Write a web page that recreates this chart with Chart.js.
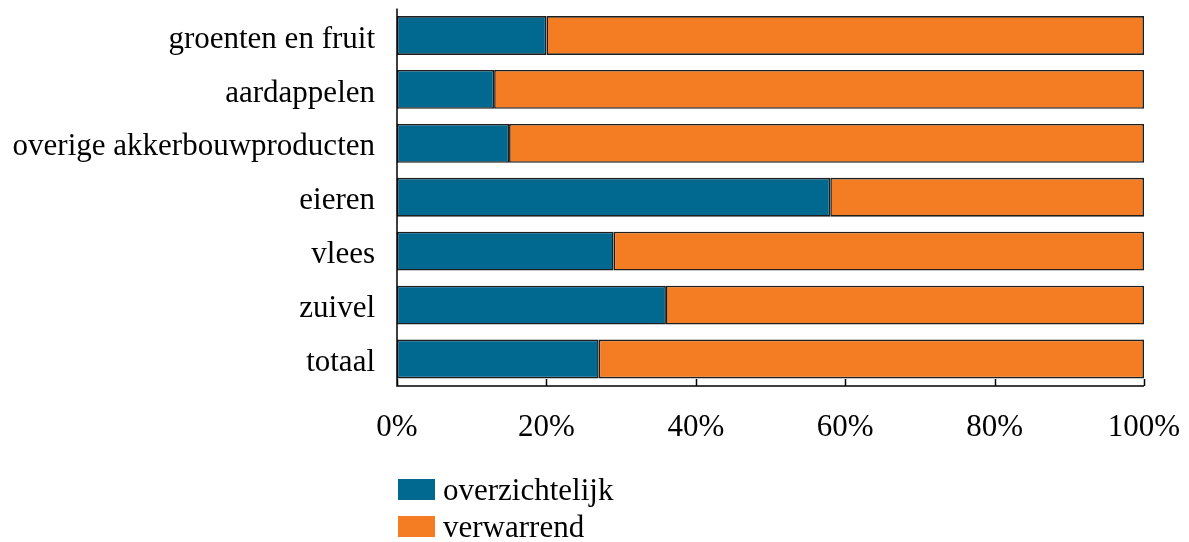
<!DOCTYPE html>
<html>
<head>
<meta charset="utf-8">
<script src="https://cdn.jsdelivr.net/npm/chart.js@4"></script>
<style>
html,body{margin:0;padding:0;background:#fff;}
#wrap{position:relative;width:1189px;height:542px;overflow:hidden;}
#legend{position:absolute;left:398px;top:471px;font-family:"Liberation Serif","Times New Roman",serif;font-size:31px;color:#000;}
.item{display:flex;align-items:center;height:37px;line-height:37px;}
.sw{width:37px;height:21px;margin-right:8px;}
</style>
</head>
<body>
<div id="wrap">
<canvas id="c" width="1189" height="542"></canvas>
<div id="legend"></div>
</div>
<script>
const categories = ["groenten en fruit","aardappelen","overige akkerbouwproducten","eieren","vlees","zuivel","totaal"];
const overzichtelijk = [20,13,15,58,29,36,27];
const verwarrend = [80,87,85,42,71,64,73];
const seriesNames = ["overzichtelijk","verwarrend"];
const colors = ["#016890","#f47c23"];
const xTicks = [0,20,40,60,80,100];

const leg = document.getElementById('legend');
seriesNames.forEach((n,i)=>{
  const d=document.createElement('div');d.className='item';
  d.innerHTML='<div class="sw" style="background:'+colors[i]+'"></div><span>'+n+'</span>';
  leg.appendChild(d);
});

const inwardTicks = {
  id:'inwardTicks',
  afterDatasetsDraw(chart){
    const {ctx, chartArea:a, scales:{x}} = chart;
    ctx.save();
    ctx.strokeStyle='#000';ctx.lineWidth=1.5;
    ctx.beginPath();
    ctx.moveTo(a.left, a.top); ctx.lineTo(a.left, a.bottom);
    ctx.lineTo(a.right, a.bottom);
    xTicks.forEach(v=>{
      const px = Math.round(x.getPixelForValue(v))+0.5;
      ctx.moveTo(px, a.bottom); ctx.lineTo(px, a.bottom-7);
    });
    ctx.stroke();
    ctx.restore();
  }
};

function noPad(s){ s.paddingTop=0; s.paddingBottom=0; s.paddingLeft=0; s.paddingRight=0; }

new Chart(document.getElementById('c'), {
  type:'bar',
  data:{
    labels:categories,
    datasets:[
      {label:seriesNames[0], data:overzichtelijk, backgroundColor:colors[0], borderColor:'#1e1e1e', borderWidth:1.6, borderSkipped:false, barPercentage:0.72, categoryPercentage:1},
      {label:seriesNames[1], data:verwarrend, backgroundColor:colors[1], borderColor:'#1e1e1e', borderWidth:1.6, borderSkipped:false, barPercentage:0.72, categoryPercentage:1}
    ]
  },
  options:{
    indexAxis:'y',
    responsive:false,
    animation:false,
    layout:{padding:{top:8.5,right:45,bottom:86,left:0}},
    plugins:{legend:{display:false},tooltip:{enabled:false}},
    scales:{
      x:{
        stacked:true, min:0, max:100,
        afterFit(s){s.height=70; noPad(s);},
        afterBuildTicks(s){s.ticks = xTicks.map(v=>({value:v}));},
        grid:{display:false, drawTicks:false},
        border:{display:false},
        ticks:{
          padding:23,
          maxRotation:0,
          color:'#000',
          font:{family:'"Liberation Serif"', size:31},
          callback:v=>v+'%'
        }
      },
      y:{
        stacked:true,
        afterFit(s){s.width=397; noPad(s);},
        grid:{display:false, drawTicks:false},
        border:{display:false},
        ticks:{
          padding:22,
          labelOffset:4,
          color:'#000',
          font:{family:'"Liberation Serif"', size:31}
        }
      }
    }
  },
  plugins:[inwardTicks]
});
</script>
</body>
</html>
